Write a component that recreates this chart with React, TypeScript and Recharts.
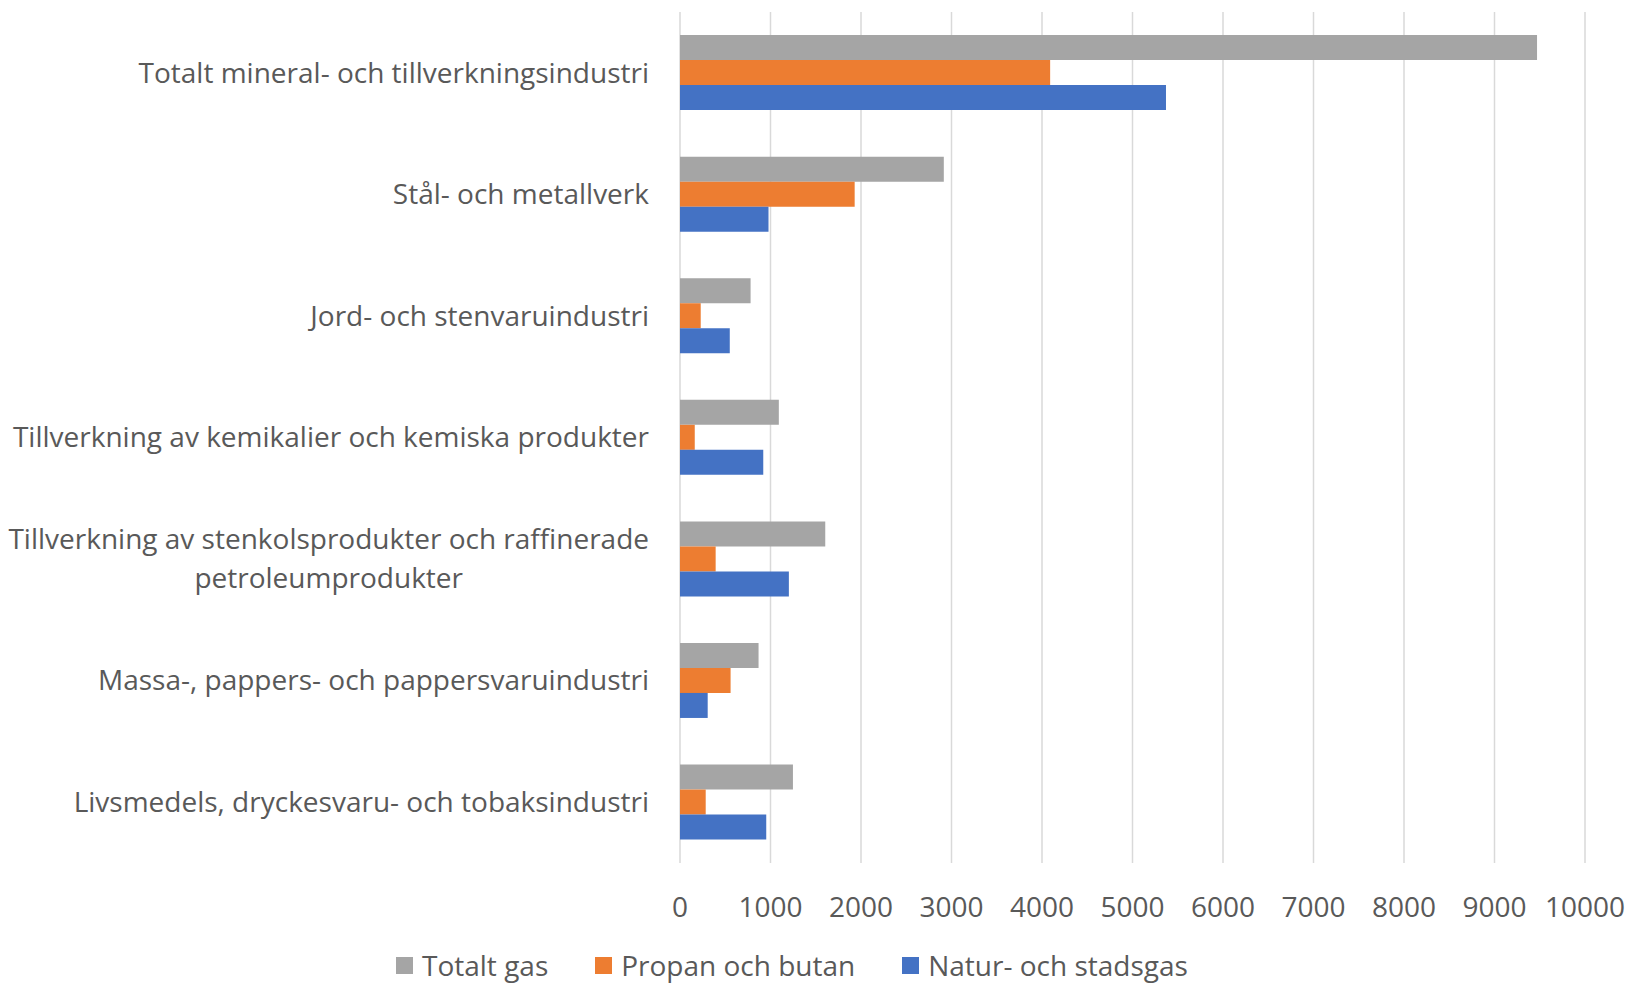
import { BarChart, Bar, XAxis, YAxis, CartesianGrid } from 'recharts';

// Categories, top to bottom
const categories = [
  'Totalt mineral- och tillverkningsindustri',
  'Stål- och metallverk',
  'Jord- och stenvaruindustri',
  'Tillverkning av kemikalier och kemiska produkter',
  'Tillverkning av stenkolsprodukter och raffinerade|petroleumprodukter',
  'Massa-, pappers- och pappersvaruindustri',
  'Livsmedels, dryckesvaru- och tobaksindustri',
];

const totaltGas = [9470, 2915, 780, 1092, 1605, 868, 1248];
const propanButan = [4090, 1930, 229, 163, 394, 559, 284];
const naturStadsgas = [5370, 978, 550, 920, 1203, 306, 953];

const xTicks = [0, 1000, 2000, 3000, 4000, 5000, 6000, 7000, 8000, 9000, 10000];

const seriesNames = ['Totalt gas', 'Propan och butan', 'Natur- och stadsgas'];
const seriesColors = ['#A5A5A5', '#ED7D31', '#4472C4'];

const FONT = '"Open Sans", sans-serif';
const TEXT = '#595959';
const FS = 28;

const chartData = categories.map((name, i) => ({
  name,
  totalt: totaltGas[i],
  propan: propanButan[i],
  natur: naturStadsgas[i],
}));

// measure text so the second line of a wrapped label can be centred under the first
const measure = (s: string, size: number) => {
  const c = document.createElement('canvas').getContext('2d');
  if (!c) return s.length * size * 0.5;
  c.font = `${size}px "Open Sans"`;
  return c.measureText(s).width;
};

const CategoryTick = ({ x, y, payload }: any) => {
  const lines = String(payload.value).split('|');
  if (lines.length === 1) {
    return (
      <text x={x} y={y} dy="0.35em" textAnchor="end" fill={TEXT} fontSize={FS} fontFamily={FONT}>
        {lines[0]}
      </text>
    );
  }
  const w = measure(lines[0], FS);
  const cx = x - w / 2;
  const lh = 39;
  const top = y - ((lines.length - 1) * lh) / 2;
  return (
    <g>
      {lines.map((l, i) => (
        <text key={i} x={cx} y={top + i * lh} dy="0.35em" textAnchor="middle" fill={TEXT} fontSize={FS} fontFamily={FONT}>
          {l}
        </text>
      ))}
    </g>
  );
};

const ValueTick = ({ x, y, payload }: any) => (
  <text x={x} y={y} dy="0.35em" textAnchor="middle" fill={TEXT} fontSize={FS} fontFamily={FONT}>
    {payload.value}
  </text>
);

export default function App() {
  return (
    <div style={{ position: 'absolute', left: 0, top: 0, width: 1631, height: 987, background: '#fff', overflow: 'hidden' }}>
      <BarChart
        width={1631}
        height={987}
        data={chartData}
        layout="vertical"
        margin={{ top: 12, right: 46, left: 0, bottom: 0 }}
        barCategoryGap="19%"
        barGap={0}
      >
        <CartesianGrid horizontal={false} stroke="#D9D9D9" strokeWidth={1.5} />
        <XAxis
          type="number"
          domain={[0, 10000]}
          ticks={xTicks}
          interval={0}
          axisLine={false}
          tickLine={false}
          tickSize={0}
          tickMargin={44}
          height={124}
          tick={<ValueTick />}
        />
        <YAxis
          type="category"
          dataKey="name"
          width={680}
          axisLine={false}
          tickLine={false}
          tickSize={0}
          tickMargin={31}
          interval={0}
          tick={<CategoryTick />}
        />
        <Bar dataKey="totalt" name={seriesNames[0]} fill={seriesColors[0]} isAnimationActive={false} />
        <Bar dataKey="propan" name={seriesNames[1]} fill={seriesColors[1]} isAnimationActive={false} />
        <Bar dataKey="natur" name={seriesNames[2]} fill={seriesColors[2]} isAnimationActive={false} />
      </BarChart>

      {/* legend, below the value axis */}
      <div
        style={{
          position: 'absolute',
          top: 947,
          left: 396,
          display: 'flex',
          alignItems: 'center',
          gap: 47,
          fontFamily: FONT,
          fontSize: FS,
          lineHeight: '36px',
          color: TEXT,
          whiteSpace: 'nowrap',
        }}
      >
        {seriesNames.map((n, i) => (
          <div key={n} style={{ display: 'flex', alignItems: 'center', gap: 9 }}>
            <div style={{ width: 17, height: 17, background: seriesColors[i] }} />
            <span>{n}</span>
          </div>
        ))}
      </div>
    </div>
  );
}
